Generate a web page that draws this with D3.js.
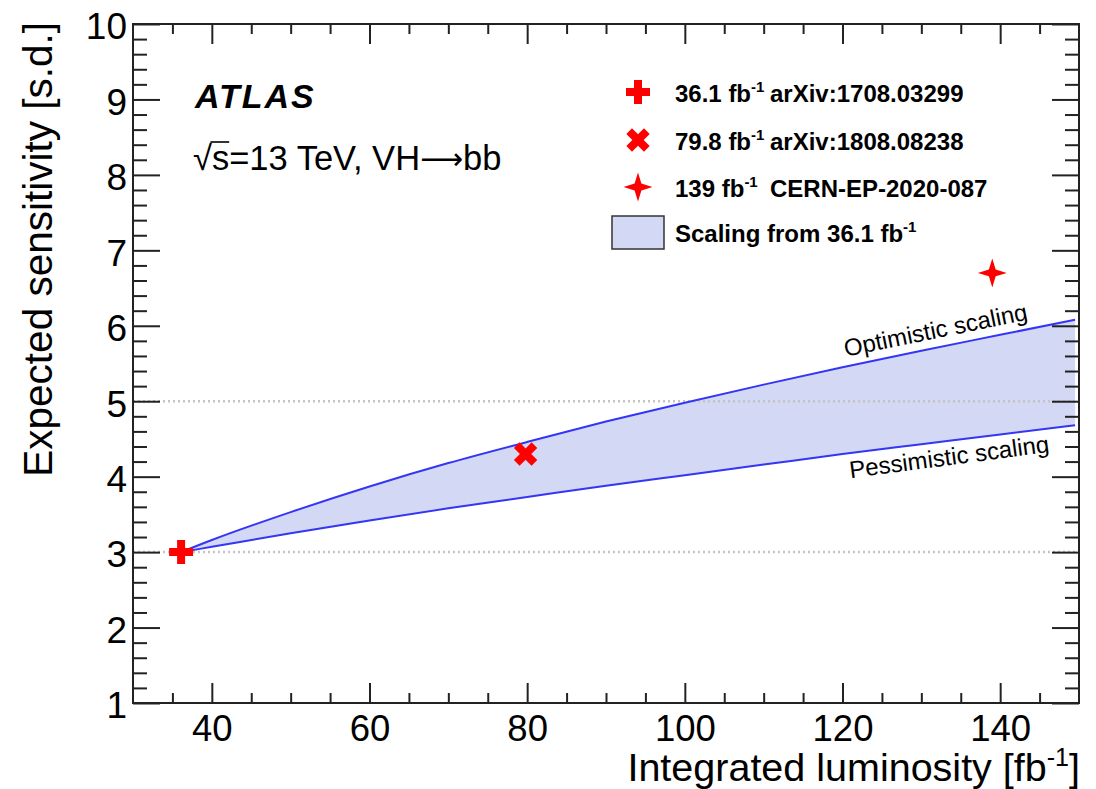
<!DOCTYPE html>
<html>
<head>
<meta charset="utf-8">
<script src="https://cdn.jsdelivr.net/npm/d3@7/dist/d3.min.js"></script>
<style>
  html, body { margin: 0; padding: 0; background: #fff; }
  svg { display: block; font-family: "Liberation Sans", Arial, Helvetica, sans-serif; }
</style>
</head>
<body>
<svg id="chart" width="1096" height="789"></svg>
<script>
// Projected VH->bb sensitivity versus integrated luminosity
const lumiGrid    = [36.1, 40, 50, 60, 70, 80, 90, 100, 110, 120, 130, 140, 149.5];
const optimistic  = [3.00, 3.16, 3.53, 3.87, 4.18, 4.46, 4.73, 4.98, 5.22, 5.45, 5.67, 5.88, 6.08];
const pessimistic = [3.00, 3.07, 3.25, 3.42, 3.58, 3.73, 3.88, 4.02, 4.16, 4.30, 4.43, 4.56, 4.68];

const measLumi   = [36.1, 79.8, 139];
const measSig    = [3.0, 4.3, 6.7];
const measLumiTx = ["36.1", "79.8", "139"];
const measRefs   = ["arXiv:1708.03299", "arXiv:1808.08238", "CERN-EP-2020-087"];

const xMajorTicks = [40, 60, 80, 100, 120, 140];
const yMajorTicks = [1, 2, 3, 4, 5, 6, 7, 8, 9, 10];
const refLevels   = [3, 5];

const svg = d3.select("#chart");
const L = 133, R = 1079, T = 24, B = 703;

const x = d3.scaleLinear().domain([30, 150]).range([L, R]);
const y = d3.scaleLinear().domain([1, 10]).range([B, T]);

const bandFill = "#d3d8f4";
const lineBlue = "#3535f5";
const red = "#ff0000";
const axisCol = "#222";

// ----- scaling band -----
const band = lumiGrid.map((l, i) => ({ l, hi: optimistic[i], lo: pessimistic[i] }));
const area = d3.area().x(d => x(d.l)).y0(d => y(d.lo)).y1(d => y(d.hi)).curve(d3.curveMonotoneX);
svg.append("path").datum(band).attr("d", area).attr("fill", bandFill);

// reference levels
svg.append("g").selectAll("line").data(refLevels).join("line")
  .attr("x1", L).attr("x2", R).attr("y1", d => y(d)).attr("y2", d => y(d))
  .attr("stroke", "#c4c4c4").attr("stroke-width", 2.5).attr("stroke-dasharray", "2,3");

const lineHi = d3.line().x(d => x(d.l)).y(d => y(d.hi)).curve(d3.curveMonotoneX);
const lineLo = d3.line().x(d => x(d.l)).y(d => y(d.lo)).curve(d3.curveMonotoneX);
svg.append("path").datum(band).attr("d", lineHi).attr("fill", "none").attr("stroke", lineBlue).attr("stroke-width", 2);
svg.append("path").datum(band).attr("d", lineLo).attr("fill", "none").attr("stroke", lineBlue).attr("stroke-width", 2);

// band labels
svg.append("text")
  .attr("transform", `translate(${x(120.4)},${y(5.59)}) rotate(-11.5)`)
  .attr("font-size", 24).attr("fill", "#000").text("Optimistic scaling");
svg.append("text")
  .attr("transform", `translate(${x(121.0)},${y(3.98)}) rotate(-7.5)`)
  .attr("font-size", 24).attr("fill", "#000").text("Pessimistic scaling");

// ----- marker shapes -----
function plusPath(a, t) {
  const p = [[-t,-a],[t,-a],[t,-t],[a,-t],[a,t],[t,t],[t,a],[-t,a],[-t,t],[-a,t],[-a,-t],[-t,-t]];
  return "M" + p.map(q => q.join(",")).join("L") + "Z";
}
function starPath(ro, ri) {
  const pts = [];
  for (let k = 0; k < 8; k++) {
    const ang = -Math.PI / 2 + k * Math.PI / 4;
    const r = k % 2 === 0 ? ro : ri;
    pts.push([r * Math.cos(ang), r * Math.sin(ang)]);
  }
  return "M" + pts.map(q => q.join(",")).join("L") + "Z";
}
const shapes = [
  { d: plusPath(12, 4), rot: 0 },
  { d: plusPath(12.5, 4), rot: 45 },
  { d: starPath(14.5, 4.8), rot: 0 }
];

svg.append("g").selectAll("path").data(measLumi).join("path")
  .attr("d", (d, i) => shapes[i].d)
  .attr("transform", (d, i) => `translate(${x(d)},${y(measSig[i])}) rotate(${shapes[i].rot})`)
  .attr("fill", red);

// ----- axes -----
const xMinor = d3.range(35, 150, 5).filter(v => !xMajorTicks.includes(v));
const yMinor = d3.range(1.2, 10, 0.2).map(v => +v.toFixed(1)).filter(v => !yMajorTicks.includes(v));

function styleAxis(g) {
  g.select(".domain").remove();
  g.selectAll(".tick line").attr("stroke", axisCol).attr("stroke-width", 2);
}

// bottom
svg.append("g").attr("transform", `translate(0,${B})`)
  .call(d3.axisBottom(x).tickValues(xMajorTicks).tickSize(-20).tickPadding(12).tickFormat(d3.format("d")))
  .call(styleAxis)
  .call(g => g.selectAll("text").attr("font-size", 36.5).attr("fill", "#000").attr("font-family", null));
svg.append("g").attr("transform", `translate(0,${B})`)
  .call(d3.axisBottom(x).tickValues(xMinor).tickSize(-10).tickFormat(""))
  .call(styleAxis);
// top
svg.append("g").attr("transform", `translate(0,${T})`)
  .call(d3.axisTop(x).tickValues(xMajorTicks).tickSize(-20).tickFormat(""))
  .call(styleAxis);
svg.append("g").attr("transform", `translate(0,${T})`)
  .call(d3.axisTop(x).tickValues(xMinor).tickSize(-10).tickFormat(""))
  .call(styleAxis);
// left
svg.append("g").attr("transform", `translate(${L},0)`)
  .call(d3.axisLeft(y).tickValues(yMajorTicks).tickSize(-27).tickPadding(6).tickFormat(d3.format("d")))
  .call(styleAxis)
  .call(g => g.selectAll("text").attr("font-size", 37).attr("fill", "#000").attr("font-family", null).attr("dy", "0.40em"));
svg.append("g").attr("transform", `translate(${L},0)`)
  .call(d3.axisLeft(y).tickValues(yMinor).tickSize(-14).tickFormat(""))
  .call(styleAxis);
// right
svg.append("g").attr("transform", `translate(${R},0)`)
  .call(d3.axisRight(y).tickValues(yMajorTicks).tickSize(-27).tickFormat(""))
  .call(styleAxis);
svg.append("g").attr("transform", `translate(${R},0)`)
  .call(d3.axisRight(y).tickValues(yMinor).tickSize(-14).tickFormat(""))
  .call(styleAxis);

// frame
svg.append("rect").attr("x", L).attr("y", T).attr("width", R - L).attr("height", B - T)
  .attr("fill", "none").attr("stroke", axisCol).attr("stroke-width", 2);

// axis titles
const xt = svg.append("text").attr("x", 1080).attr("y", 781).attr("text-anchor", "end")
  .attr("font-size", 39.5).attr("fill", "#000");
xt.append("tspan").text("Integrated luminosity [fb");
xt.append("tspan").attr("dy", -15).attr("font-size", 25).text("-1");
xt.append("tspan").attr("dy", 15).text("]");

svg.append("text").attr("transform", "translate(52,22) rotate(-90)").attr("text-anchor", "end")
  .attr("font-size", 40.5).attr("fill", "#000").text("Expected sensitivity [s.d.]");

// ATLAS label
svg.append("text").attr("x", 195).attr("y", 108).attr("font-size", 34).attr("font-weight", "bold")
  .attr("font-style", "italic").attr("letter-spacing", 2).attr("fill", "#000").text("ATLAS");

const en = svg.append("text").attr("x", 193).attr("y", 170).attr("font-size", 34.5).attr("fill", "#000");
en.append("tspan").text("\u221A");
en.append("tspan").text("s=13 TeV, VH");
en.append("tspan").attr("font-family", "DejaVu Sans").attr("font-size", 30).attr("dy", -1).text("\u27F6");
en.append("tspan").attr("dy", 1).text("bb");
{
  const node = en.node();
  const sEnd = node.getEndPositionOfChar(1).x;
  const w0 = node.getEndPositionOfChar(0).x;
  svg.append("line").attr("x1", w0 - 1.5).attr("x2", sEnd).attr("y1", 170 - 28).attr("y2", 170 - 28)
    .attr("stroke", "#000").attr("stroke-width", 1.6);
}

// ----- legend -----
const legRows = [92, 140, 187];
const legG = svg.append("g");
measLumi.forEach((d, i) => {
  legG.append("path").attr("d", shapes[i].d)
    .attr("transform", `translate(638,${legRows[i]}) rotate(${shapes[i].rot})`).attr("fill", red);
  const t = legG.append("text").attr("x", 675).attr("y", legRows[i] + 10)
    .attr("font-size", 24).attr("font-weight", "bold").attr("fill", "#000");
  t.append("tspan").text(measLumiTx[i] + " fb");
  t.append("tspan").attr("dy", -10).attr("font-size", 15).text("-1");
  legG.append("text").attr("x", 770).attr("y", legRows[i] + 10)
    .attr("font-size", 24).attr("font-weight", "bold").attr("fill", "#000").text(measRefs[i]);
});
legG.append("rect").attr("x", 612).attr("y", 216).attr("width", 52).attr("height", 33)
  .attr("fill", bandFill).attr("stroke", "#333").attr("stroke-width", 1.5);
const lt = legG.append("text").attr("x", 675).attr("y", 242)
  .attr("font-size", 24).attr("font-weight", "bold").attr("fill", "#000");
lt.append("tspan").text("Scaling from 36.1 fb");
lt.append("tspan").attr("dy", -10).attr("font-size", 15).text("-1");
</script>
</body>
</html>
